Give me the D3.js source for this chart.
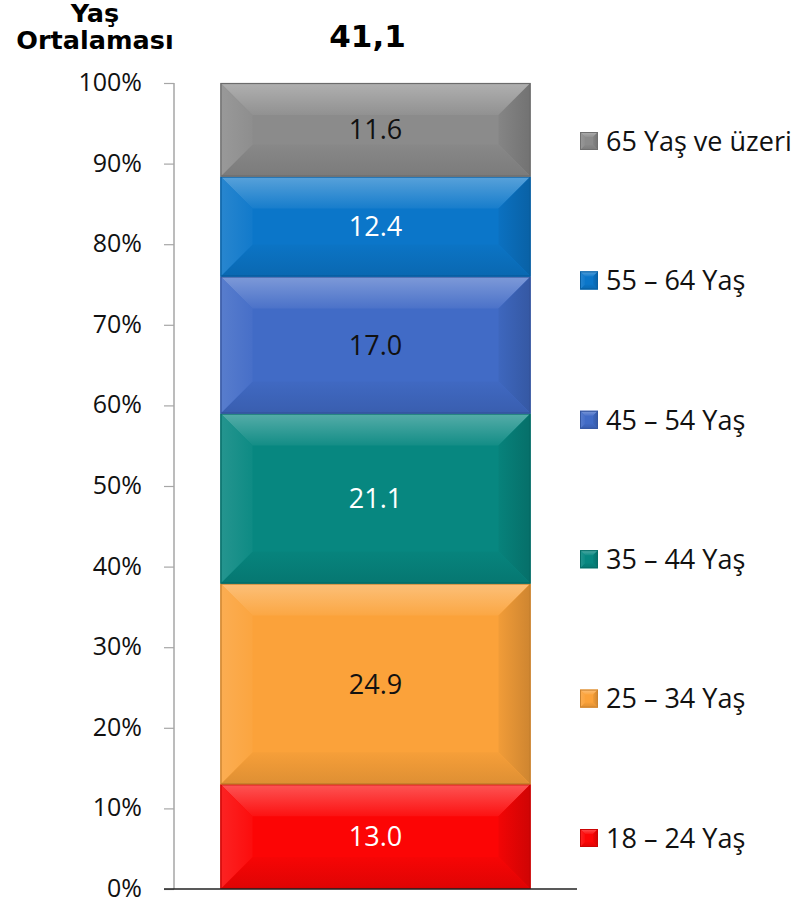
<!DOCTYPE html>
<meta charset="utf-8">
<head>
    <script type="text/javascript" src="https://cdn.jsdelivr.net/npm/d3@7/dist/d3.min.js"></script>
    <style>
        body { margin: 0; background: #fff; }
        svg text { font-family: "Open Sans", "Noto Sans", sans-serif; }
    </style>
    <title>Yaş Ortalaması</title>
</head>
<body>
<div id="chart"></div>
<script>
    // data, bottom segment first
    var categories = ["18 – 24 Yaş", "25 – 34 Yaş", "35 – 44 Yaş", "45 – 54 Yaş", "55 – 64 Yaş", "65 Yaş ve üzeri"];
    var values = [13.0, 24.9, 21.1, 17.0, 12.4, 11.6];
    var tickValues = [0, 10, 20, 30, 40, 50, 60, 70, 80, 90, 100];
    var barName = ["Toplam"];
    var averageAge = "41,1";

    var colors = ["#fc0505", "#fba23a", "#078780", "#416bc6", "#0b76c9", "#8b8b8b"];
    var labelColors = ["#fff", "#111", "#fff", "#111", "#fff", "#111"];

    var width = 799, height = 902;
    var margin = {top: 83, bottom: 13, left: 174, right: 222};

    var svg = d3.select("#chart").append("svg")
        .attr("width", width)
        .attr("height", height);

    var y = d3.scaleLinear()
        .domain([0, 100])
        .range([height - margin.bottom, margin.top]);

    var x = d3.scaleBand()
        .domain(barName)
        .range([margin.left, width - margin.right])
        .padding(0.1304);

    // stacked data
    var stacked = [];
    var run = 0;
    values.forEach(function (v, i) {
        stacked.push({i: i, name: categories[i], value: v, y0: run, y1: run + v, color: colors[i], label: labelColors[i]});
        run += v;
    });

    // gradients for the bevel facets, one set per colour
    var defs = svg.append("defs");
    function grad(id, x2, y2, c1, c2) {
        var g = defs.append("linearGradient").attr("id", id)
            .attr("x1", 0).attr("y1", 0).attr("x2", x2).attr("y2", y2);
        g.append("stop").attr("offset", "0%").attr("stop-color", c1);
        g.append("stop").attr("offset", "100%").attr("stop-color", c2);
    }
    colors.forEach(function (c, i) {
        var light = d3.interpolateRgb(c, "#fff");
        var dark = d3.interpolateRgb(c, "#000");
        grad("top" + i, 0, 1, light(0.32), light(0.05));
        grad("right" + i, 1, 0, dark(0.04), d3.color(c).darker(0.55));
        grad("bottom" + i, 0, 1, dark(0.02), d3.color(c).darker(0.35));
        grad("left" + i, 1, 0, light(0.12), light(0.03));
    });

    function facets(i, x0, x1, yT, yB, b) {
        return [
            {fill: "url(#top" + i + ")", pts: [[x0, yT], [x1, yT], [x1 - b, yT + b], [x0 + b, yT + b]]},
            {fill: "url(#right" + i + ")", pts: [[x1, yT], [x1, yB], [x1 - b, yB - b], [x1 - b, yT + b]]},
            {fill: "url(#bottom" + i + ")", pts: [[x0, yB], [x1, yB], [x1 - b, yB - b], [x0 + b, yB - b]]},
            {fill: "url(#left" + i + ")", pts: [[x0, yT], [x0, yB], [x0 + b, yB - b], [x0 + b, yT + b]]}
        ];
    }

    // axis
    var axis = svg.append("g")
        .attr("transform", "translate(" + margin.left + ",0)")
        .call(d3.axisLeft(y).tickValues(tickValues).tickFormat(function (d) { return d + "%"; })
            .tickSize(10).tickPadding(22));
    axis.select(".domain").attr("stroke", "#a6a6a6").attr("stroke-width", 1.5)
        .attr("d", "M0," + y(100) + "V" + y(0));
    axis.selectAll(".tick line").attr("stroke", "#a6a6a6").attr("stroke-width", 1.2);
    axis.selectAll(".tick text")
        .attr("fill", "#111")
        .attr("dy", "0.3em")
        .style("font-size", "25px")
        .style("font-family", "'Open Sans', sans-serif");

    // segments
    var segs = svg.append("g").selectAll("g.seg")
        .data(stacked)
        .enter().append("g").attr("class", "seg");

    segs.each(function (d) {
        var g = d3.select(this);
        var x0 = x(barName[0]), x1 = x0 + x.bandwidth();
        var yT = y(d.y1), yB = y(d.y0);
        var b = Math.min(32, (yB - yT) / 2);
        g.append("rect")
            .attr("x", x0).attr("y", yT)
            .attr("width", x1 - x0).attr("height", yB - yT)
            .attr("fill", d.color);
        g.selectAll("polygon").data(facets(d.i, x0, x1, yT, yB, b))
            .enter().append("polygon")
            .attr("points", function (f) { return f.pts.join(" "); })
            .attr("fill", function (f) { return f.fill; });
        g.append("rect")
            .attr("x", x0 + 0.5).attr("y", yT + 0.5)
            .attr("width", x1 - x0 - 1).attr("height", yB - yT - 1)
            .attr("fill", "none")
            .attr("stroke", d3.color(d.color).darker(0.7))
            .attr("stroke-width", 1.2);
        g.append("text")
            .attr("x", (x0 + x1) / 2)
            .attr("y", (yT + yB) / 2)
            .attr("dy", "0.36em")
            .attr("text-anchor", "middle")
            .attr("fill", d.label)
            .style("font-size", "27px")
            .text(d.value.toFixed(1));
    });

    // baseline
    svg.append("line")
        .attr("x1", margin.left - 10).attr("x2", width - margin.right)
        .attr("y1", y(0)).attr("y2", y(0))
        .attr("stroke", "#222").attr("stroke-width", 1.5);

    // legend
    var ly = d3.scalePoint()
        .domain(categories.slice().reverse())
        .range([141, 838]);

    var leg = svg.append("g").selectAll("g.leg")
        .data(stacked)
        .enter().append("g").attr("class", "leg")
        .attr("transform", function (d) { return "translate(580," + ly(d.name) + ")"; });

    leg.each(function (d) {
        var g = d3.select(this);
        var s = 18, b = 5;
        g.append("rect").attr("x", 0).attr("y", -s / 2).attr("width", s).attr("height", s).attr("fill", d.color);
        g.selectAll("polygon").data(facets(d.i, 0, s, -s / 2, s / 2, b))
            .enter().append("polygon")
            .attr("points", function (f) { return f.pts.join(" "); })
            .attr("fill", function (f) { return f.fill; });
        g.append("rect").attr("x", 0.5).attr("y", -s / 2 + 0.5).attr("width", s - 1).attr("height", s - 1)
            .attr("fill", "none").attr("stroke", d3.color(d.color).darker(0.6)).attr("stroke-width", 1);
        g.append("text")
            .attr("x", 26).attr("y", 0).attr("dy", "0.36em")
            .attr("fill", "#111")
            .style("font-size", "27px")
            .text(d.name);
    });

    // titles
    svg.selectAll("text.ttl")
        .data(["Yaş", "Ortalaması"])
        .enter().append("text")
        .attr("class", "ttl")
        .attr("x", 95)
        .attr("y", function (d, i) { return i ? 49 : 22; })
        .attr("text-anchor", "middle")
        .attr("fill", "#000")
        .style("font-family", "'DejaVu Sans', Verdana, sans-serif")
        .style("font-weight", "bold")
        .style("font-size", "25.5px")
        .text(function (d) { return d; });

    svg.append("text")
        .attr("x", x(barName[0]) + x.bandwidth() / 2 - 8)
        .attr("y", 47)
        .attr("text-anchor", "middle")
        .attr("fill", "#000")
        .style("font-family", "'DejaVu Sans', Verdana, sans-serif")
        .style("font-weight", "bold")
        .style("font-size", "31px")
        .text(averageAge);
</script>
</body>
</html>
